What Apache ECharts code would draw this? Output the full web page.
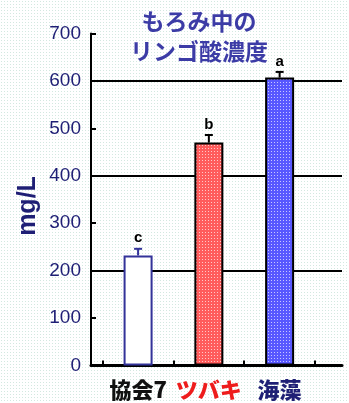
<!DOCTYPE html>
<html>
<head>
    <meta charset="utf-8"/>
    <title>リンゴ酸濃度</title>
    <style>
        html, body { margin: 0; padding: 0; }
    </style>
</head>
<body>
<div id="main" style="width: 349px;height:403px;"></div>
<script src="https://cdn.jsdelivr.net/npm/echarts@6/dist/echarts.min.js"></script>
<script>
    // データ
    var categories = ['協会7', 'ツバキ', '海藻'];
    var values = [232, 470, 607];
    var errors = [14, 16, 12];
    var letters = ['c', 'b', 'a'];
    var yTicks = [0, 100, 200, 300, 400, 500, 600, 700];

    var labelColors = ['#111111', '#ee1c1c', '#1f1f75'];
    var fontJP = '"Noto Sans CJK JP", "Liberation Sans", sans-serif';
    var fontNum = '"Liberation Sans", Arial, sans-serif';

    // ドット模様
    function dots(bg, fg, size) {
        var c = document.createElement('canvas');
        c.width = size; c.height = size;
        var ctx = c.getContext('2d');
        ctx.fillStyle = bg;
        ctx.fillRect(0, 0, size, size);
        ctx.fillStyle = fg;
        ctx.fillRect(1, 1, 1, 1);
        return {image: c, repeat: 'repeat'};
    }

    var barStyles = [
        {color: '#ffffff', borderColor: '#333399', borderWidth: 2},
        {color: dots('#ff5c5c', '#ffc8c8', 3), borderColor: '#000', borderWidth: 2},
        {color: dots('#5858ff', '#c8c8ff', 3), borderColor: '#000', borderWidth: 2}
    ];
    var errColors = ['#333399', '#000', '#000'];

    var myChart = echarts.init(document.getElementById('main'));

    var option = {
        backgroundColor: dots('#ffffff', '#d3e8e0', 3),
        animation: false,
        graphic: [{
            type: 'text',
            style: {
                x: 199, y: 6,
                text: 'もろみ中の\nリンゴ酸濃度',
                align: 'center',
                verticalAlign: 'top',
                font: 'bold 23px ' + fontJP,
                fill: '#3c3ca6',
                lineHeight: 30
            }
        }, {
            type: 'text',
            x: 28, y: 206,
            rotation: Math.PI / 2,
            style: {
                x: 0, y: 0,
                text: 'mg/L',
                align: 'center',
                verticalAlign: 'middle',
                font: 'bold 25px ' + fontNum,
                fill: '#1f1f75'
            }
        }],
        grid: [
            {left: 91, right: 7, top: 33.5, bottom: 37.5},
            {left: 102.7, right: 34, top: 33.5, bottom: 37.5}
        ],
        xAxis: [{
            gridIndex: 0,
            type: 'value',
            min: 0, max: 1,
            axisLine: {show: true, lineStyle: {color: '#000', width: 3}},
            axisTick: {show: false},
            axisLabel: {show: false},
            splitLine: {show: false}
        }, {
            gridIndex: 1,
            type: 'category',
            data: categories.map(function (c, i) {
                return {value: c, textStyle: {color: labelColors[i]}};
            }),
            axisLine: {show: false},
            axisTick: {show: true, inside: true, length: 5, lineStyle: {color: '#000', width: 2}},
            axisLabel: {
                interval: 0,
                margin: 13,
                fontSize: 22,
                fontWeight: 900,
                fontFamily: fontJP
            }
        }],
        yAxis: [{
            gridIndex: 0,
            type: 'value',
            min: yTicks[0], max: yTicks[yTicks.length - 1], interval: 100,
            axisLine: {show: true, lineStyle: {color: '#000', width: 2}},
            axisTick: {show: true, inside: true, length: 5, lineStyle: {color: '#000', width: 2}},
            axisLabel: {
                margin: 10,
                color: '#1f1f75',
                fontSize: 19,
                fontFamily: fontNum
            },
            splitLine: {show: true, lineStyle: {color: ['#000', 'transparent'], width: 2}}
        }, {
            gridIndex: 1,
            type: 'value',
            min: yTicks[0], max: yTicks[yTicks.length - 1], interval: 100,
            show: false,
            splitLine: {show: false}
        }],
        series: [{
            type: 'bar',
            xAxisIndex: 1,
            yAxisIndex: 1,
            barWidth: 29,
            z: 3,
            data: values.map(function (v, i) {
                return {value: v, itemStyle: barStyles[i]};
            })
        }, {
            type: 'custom',
            xAxisIndex: 1,
            yAxisIndex: 1,
            z: 4,
            data: values.map(function (v, i) { return [i, v, v + errors[i]]; }),
            renderItem: function (params, api) {
                var i = api.value(0);
                var base = api.coord([i, api.value(1)]);
                var top = api.coord([i, api.value(2)]);
                var col = errColors[params.dataIndex];
                return {
                    type: 'group',
                    children: [{
                        type: 'line',
                        shape: {x1: base[0], y1: base[1], x2: top[0], y2: top[1]},
                        style: {stroke: col, lineWidth: 2}
                    }, {
                        type: 'line',
                        shape: {x1: top[0] - 4, y1: top[1], x2: top[0] + 4, y2: top[1]},
                        style: {stroke: col, lineWidth: 2}
                    }, {
                        type: 'text',
                        style: {
                            x: top[0], y: top[1] - 3,
                            text: letters[params.dataIndex],
                            align: 'center', verticalAlign: 'bottom',
                            font: 'bold 15px ' + fontNum,
                            fill: '#000'
                        }
                    }]
                };
            }
        }]
    };

    myChart.setOption(option);
</script>
</body>
</html>
